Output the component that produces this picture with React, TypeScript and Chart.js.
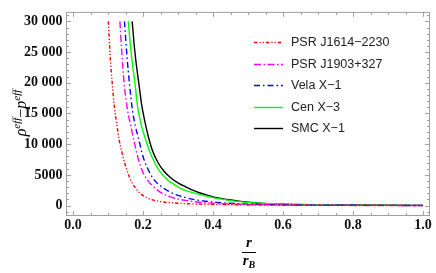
import React, { useEffect, useRef } from "react";
import { Chart, registerables } from "chart.js";

Chart.register(...registerables);

const seriesNames = ["PSR J1614\u22122230", "PSR J1903+327", "Vela X\u22121", "Cen X\u22123", "SMC X\u22121"];
const seriesColors = ["#ff0000", "#ff00ff", "#0000ff", "#00ff00", "#000000"];
const seriesDashes: number[][] = [[3.5, 2, 1.2, 2, 1.2, 2], [7, 2.5, 1.5, 2.5], [6, 3, 1.5, 3], [], []];

const redX = [0.101, 0.106, 0.112, 0.118, 0.124, 0.131, 0.14, 0.15, 0.163, 0.177, 0.192, 0.21, 0.23, 0.255, 0.28, 0.32, 0.37, 0.43, 0.5, 0.6, 0.7, 0.8, 0.9, 1.0];
const redY = [30000, 24500, 20000, 16200, 13700, 11000, 8600, 6500, 4400, 3000, 2000, 1300, 900, 620, 470, 330, 230, 160, 110, 70, 45, 30, 22, 15];

const magentaX = [0.134, 0.14, 0.146, 0.156, 0.165, 0.174, 0.187, 0.2, 0.215, 0.23, 0.25, 0.27, 0.295, 0.32, 0.36, 0.41, 0.47, 0.55, 0.65, 0.75, 0.85, 1.0];
const magentaY = [30000, 24500, 20000, 15500, 13000, 10600, 7500, 5400, 4000, 3100, 2150, 1600, 1150, 850, 560, 360, 230, 140, 85, 55, 38, 25];

const blueX = [0.147, 0.154, 0.161, 0.17, 0.178, 0.187, 0.197, 0.206, 0.218, 0.232, 0.25, 0.268, 0.29, 0.315, 0.34, 0.37, 0.41, 0.46, 0.52, 0.6, 0.7, 0.8, 0.9, 1.0];
const blueY = [30000, 24500, 20000, 15500, 13000, 11000, 8600, 7000, 5500, 4200, 3200, 2500, 1850, 1400, 1050, 780, 520, 340, 220, 130, 80, 52, 36, 26];

const greenX = [0.158, 0.165, 0.171, 0.177, 0.184, 0.194, 0.206, 0.22, 0.234, 0.25, 0.268, 0.282, 0.3, 0.315, 0.34, 0.363, 0.41, 0.468, 0.534, 0.6, 0.7, 0.8, 0.9, 1.0];
const greenY = [30000, 25500, 22500, 20000, 16300, 13400, 11000, 8700, 6900, 5400, 4300, 3700, 3050, 2600, 2150, 1800, 1180, 690, 380, 240, 130, 80, 55, 40];

const blackX = [0.169, 0.176, 0.182, 0.189, 0.196, 0.205, 0.215, 0.228, 0.244, 0.26, 0.28, 0.3, 0.315, 0.34, 0.363, 0.39, 0.41, 0.44, 0.468, 0.5, 0.534, 0.6, 0.7, 0.8, 0.9, 1.0];
const blackY = [30000, 25500, 22500, 19500, 16500, 13800, 11300, 8800, 6900, 5600, 4500, 3700, 3250, 2550, 2050, 1600, 1300, 1000, 780, 560, 400, 250, 140, 90, 60, 42];

const xTickValues = [0, 0.2, 0.4, 0.6, 0.8, 1.0];
const xTickLabels = ["0.0", "0.2", "0.4", "0.6", "0.8", "1.0"];
const yTickValues = [0, 5000, 10000, 15000, 20000, 25000, 30000];
const yTickLabels = ["0", "5000", "10 000", "15 000", "20 000", "25 000", "30 000"];

const allX = [redX, magentaX, blueX, greenX, blackX];
const allY = [redY, magentaY, blueY, greenY, blackY];

const SERIF = "'Liberation Serif', 'Times New Roman', serif";
const SANS = "'Liberation Sans', Arial, sans-serif";

const framePlugin = {
  id: "mmaFrame",
  afterDatasetsDraw(chart: any) {
    const { ctx, chartArea: a, scales } = chart;
    const xs = scales.x;
    const ys = scales.y;
    ctx.save();
    ctx.strokeStyle = "#a0a0a0";
    ctx.lineWidth = 1;
    ctx.setLineDash([]);
    ctx.strokeRect(a.left + 0.5, a.top + 0.5, a.right - a.left - 1, a.bottom - a.top - 1);
    ctx.beginPath();
    for (let i = 0; i <= 20; i++) {
      const v = i * 0.05;
      const major = i % 4 === 0;
      const len = major ? 5 : 3;
      const px = Math.round(xs.getPixelForValue(v)) + 0.5;
      ctx.moveTo(px, a.bottom);
      ctx.lineTo(px, a.bottom - len);
      ctx.moveTo(px, a.top);
      ctx.lineTo(px, a.top + len);
    }
    for (let v = -1000; v <= 31000; v += 1000) {
      const major = v % 5000 === 0;
      const len = major ? 5 : 3;
      const py = Math.round(ys.getPixelForValue(v)) + 0.5;
      if (py < a.top || py > a.bottom) continue;
      ctx.moveTo(a.left, py);
      ctx.lineTo(a.left + len, py);
      ctx.moveTo(a.right, py);
      ctx.lineTo(a.right - len, py);
    }
    ctx.stroke();
    ctx.restore();
  },
  afterDraw(chart: any) {
    const { ctx } = chart;
    ctx.save();
    // legend
    const lx0 = 254;
    const lx1 = 283;
    const tx = 291;
    const y0 = 42;
    const dy = 21.6;
    chart.data.datasets.forEach((ds: any, i: number) => {
      const yy = Math.round(y0 + i * dy) + 0.5;
      ctx.strokeStyle = ds.borderColor;
      ctx.lineWidth = ds.borderWidth;
      ctx.setLineDash(ds.borderDash || []);
      ctx.beginPath();
      ctx.moveTo(lx0, yy);
      ctx.lineTo(lx1, yy);
      ctx.stroke();
      ctx.setLineDash([]);
      ctx.fillStyle = "#222";
      ctx.font = `12.5px ${SANS}`;
      ctx.textBaseline = "middle";
      ctx.textAlign = "left";
      ctx.fillText(ds.label, tx, yy + 0.5);
    });

    // x axis title: r / r_B
    const cx = 249;
    ctx.fillStyle = "#000";
    ctx.textAlign = "center";
    ctx.textBaseline = "alphabetic";
    ctx.font = `bold italic 15px ${SERIF}`;
    ctx.fillText("r", cx, 247);
    ctx.strokeStyle = "#000";
    ctx.lineWidth = 1;
    ctx.beginPath();
    ctx.moveTo(242, 252.5);
    ctx.lineTo(256, 252.5);
    ctx.stroke();
    ctx.textAlign = "left";
    const rw = ctx.measureText("r").width;
    ctx.font = `bold italic 10px ${SERIF}`;
    const bw = ctx.measureText("B").width;
    const startX = cx - (rw + bw) / 2;
    ctx.font = `bold italic 15px ${SERIF}`;
    ctx.fillText("r", startX, 265);
    ctx.font = `bold italic 10px ${SERIF}`;
    ctx.fillText("B", startX + rw, 268);

    // y axis title: rho^eff - p^eff (rotated)
    const parts = [
      { t: "\u03C1", f: `italic 16px ${SERIF}`, d: 0 },
      { t: "eff", f: `italic 11px ${SERIF}`, d: -6.5 },
      { t: "\u2212", f: `16px ${SERIF}`, d: 0 },
      { t: "p", f: `italic 16px ${SERIF}`, d: 0 },
      { t: "eff", f: `italic 11px ${SERIF}`, d: -6.5 },
    ];
    let total = 0;
    const widths = parts.map((p) => {
      ctx.font = p.f;
      const w = ctx.measureText(p.t).width;
      total += w;
      return w;
    });
    ctx.translate(22, 113);
    ctx.rotate(-Math.PI / 2);
    let px = -total / 2;
    parts.forEach((p, i) => {
      ctx.font = p.f;
      ctx.fillText(p.t, px, 4 + p.d);
      px += widths[i];
    });
    ctx.restore();
  },
};

export default function App() {
  const ref = useRef<HTMLCanvasElement | null>(null);
  useEffect(() => {
    if (!ref.current) return;
    const datasets = seriesNames.map((name, i) => ({
      label: name,
      data: allX[i].map((x, j) => ({ x, y: allY[i][j] })),
      borderColor: seriesColors[i],
      backgroundColor: seriesColors[i],
      borderWidth: 1.4,
      borderDash: seriesDashes[i],
      pointRadius: 0,
      fill: false,
      cubicInterpolationMode: "monotone" as const,
    }));
    const chart = new Chart(ref.current, {
      type: "line",
      data: { datasets },
      plugins: [framePlugin],
      options: {
        responsive: false,
        animation: false,
        events: [],
        layout: { padding: { left: 0, right: 6, top: 0, bottom: 0 } },
        plugins: { legend: { display: false }, tooltip: { enabled: false } },
        scales: {
          x: {
            type: "linear",
            min: -0.02,
            max: 1.02,
            grid: { display: false, drawTicks: false },
            border: { display: false },
            afterBuildTicks: (s: any) => {
              s.ticks = xTickValues.map((v) => ({ value: v }));
            },
            afterFit: (s: any) => {
              s.height = 57;
            },
            ticks: {
              padding: 1,
              maxRotation: 0,
              autoSkip: false,
              color: "#111",
              font: { family: SERIF, weight: "bold", size: 14 },
              callback: (_v: any, i: number) => xTickLabels[i],
            },
          },
          y: {
            type: "linear",
            min: -1690,
            max: 31540,
            grid: { display: false, drawTicks: false },
            border: { display: false },
            afterBuildTicks: (s: any) => {
              s.ticks = yTickValues.map((v) => ({ value: v }));
            },
            afterFit: (s: any) => {
              s.width = 66;
            },
            ticks: {
              padding: 3.5,
              autoSkip: false,
              color: "#111",
              font: { family: SERIF, weight: "bold", size: 14 },
              callback: (_v: any, i: number) => yTickLabels[i],
            },
          },
        },
      },
    });
    return () => chart.destroy();
  }, []);
  return (
    <div style={{ position: "fixed", left: 0, top: 0, width: 436, height: 273, background: "#fff" }}>
      <canvas ref={ref} width={436} height={273} />
    </div>
  );
}
